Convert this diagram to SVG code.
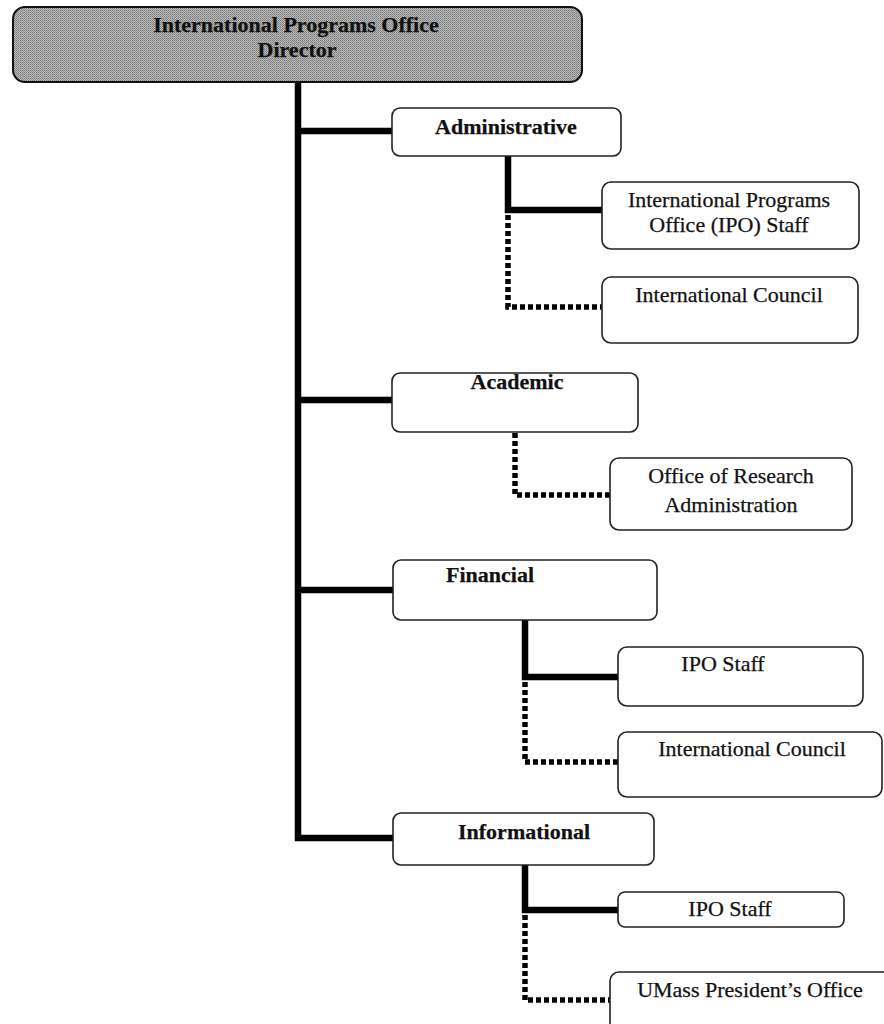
<svg xmlns="http://www.w3.org/2000/svg" width="884" height="1024" viewBox="0 0 884 1024">
<defs>
<pattern id="dither" width="2" height="2" patternUnits="userSpaceOnUse">
<rect width="2" height="2" fill="#b8b8b8"/>
<rect width="1" height="1" fill="#7c7c7c"/>
<rect x="1" y="1" width="1" height="1" fill="#8e8e8e"/>
</pattern>
<style>
.box{fill:#fff;stroke:#222;stroke-width:1.6}
.top{fill:url(#dither);stroke:#111;stroke-width:2}
.solid{fill:none;stroke:#000;stroke-width:6.5;stroke-linejoin:miter;stroke-linecap:butt}
.dot{fill:none;stroke:#000;stroke-width:5.5;stroke-dasharray:5 3;stroke-linecap:butt}
text{font-family:"Liberation Serif","Times New Roman",serif;font-size:22px;fill:#111;text-anchor:middle;stroke:#111;stroke-width:0.25}
.b{font-weight:bold}
</style>
</defs>
<rect width="884" height="1024" fill="#fff"/>
<g id="connectors">
<path class="solid" d="M298 82 V838 H393"/>
<path class="solid" d="M298 131 H392"/>
<path class="solid" d="M298 400 H392"/>
<path class="solid" d="M298 590 H393"/>
<path class="solid" d="M508 156 V210 H602"/>
<path class="dot" d="M508 215 V307 H602"/>
<path class="dot" d="M515 433 V495 H610"/>
<path class="solid" d="M525 620 V677 H618"/>
<path class="dot" d="M525 682 V762 H618"/>
<path class="solid" d="M525 865 V910 H618"/>
<path class="dot" d="M525 915 V1000 H610"/>
</g>
<g id="director">
<rect class="top" x="13" y="7" width="569" height="75" rx="12"/>
<text class="b" x="296" y="32" font-size="19.5">International Programs Office</text>
<text class="b" x="297" y="57" font-size="19.5">Director</text>
</g>
<g id="administrative">
<rect class="box" x="392" y="108" width="229" height="48" rx="8"/>
<text class="b" x="506" y="134">Administrative</text>
</g>
<g id="ipo-staff-admin">
<rect class="box" x="602" y="182" width="257" height="67" rx="9"/>
<text x="729" y="207">International Programs</text>
<text x="729" y="232">Office (IPO) Staff</text>
</g>
<g id="intl-council-admin">
<rect class="box" x="602" y="277" width="256" height="66" rx="9"/>
<text x="729" y="302">International Council</text>
</g>
<g id="academic">
<rect class="box" x="392" y="373" width="246" height="59" rx="8"/>
<text class="b" x="517" y="389">Academic</text>
</g>
<g id="research-admin">
<rect class="box" x="610" y="458" width="242" height="72" rx="9"/>
<text x="731" y="483">Office of Research</text>
<text x="731" y="512">Administration</text>
</g>
<g id="financial">
<rect class="box" x="393" y="560" width="264" height="60" rx="8"/>
<text class="b" x="490" y="582">Financial</text>
</g>
<g id="ipo-staff-fin">
<rect class="box" x="618" y="647" width="245" height="59" rx="9"/>
<text x="723" y="671">IPO Staff</text>
</g>
<g id="intl-council-fin">
<rect class="box" x="618" y="732" width="264" height="65" rx="9"/>
<text x="752" y="756">International Council</text>
</g>
<g id="informational">
<rect class="box" x="393" y="813" width="261" height="52" rx="8"/>
<text class="b" x="524" y="839">Informational</text>
</g>
<g id="ipo-staff-info">
<rect class="box" x="618" y="892" width="226" height="35" rx="7"/>
<text x="730" y="916">IPO Staff</text>
</g>
<g id="umass">
<rect class="box" x="610" y="972" width="300" height="80" rx="9"/>
<text x="750" y="997">UMass President’s Office</text>
</g>
</svg>
